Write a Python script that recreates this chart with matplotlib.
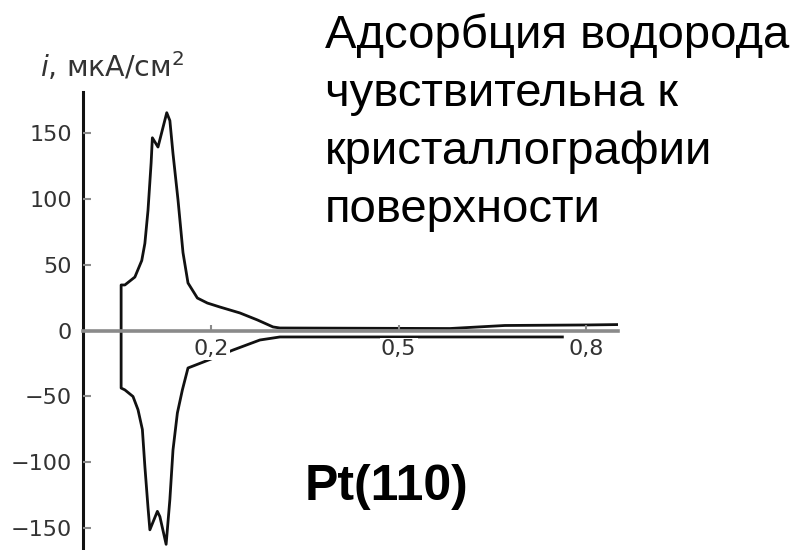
import matplotlib
matplotlib.use("Agg")
import matplotlib.pyplot as plt

# потенциал (В) и ток (мкА/см2), цикл: катодная ветвь справа налево, затем анодная
e_cath = [0.762, 0.622, 0.310, 0.278, 0.235, 0.200, 0.163, 0.154, 0.146, 0.139,
          0.134, 0.128, 0.118, 0.114, 0.102, 0.099, 0.094, 0.090, 0.083, 0.075,
          0.062, 0.056]
i_cath = [-4.9, -4.9, -4.9, -7.2, -14.8, -21.6, -28.4, -45, -62.5, -90.5,
          -128, -162, -141, -137, -151, -134, -103, -75, -60, -50,
          -45, -43.6]

e_anod = [0.056, 0.062, 0.078, 0.089, 0.094, 0.099, 0.104, 0.106, 0.115, 0.129,
          0.134, 0.139, 0.147, 0.155, 0.163, 0.178, 0.194, 0.214, 0.246, 0.274,
          0.299, 0.310, 0.582, 0.670, 0.802, 0.851]
i_anod = [34.5, 34.5, 40.5, 53, 66, 91, 127, 146, 139, 165,
          159, 134, 99, 59, 36, 24.6, 20.8, 17.8, 13.3, 8,
          2.7, 1.9, 1.5, 3.8, 4.2, 4.5]

x_ticks = [0.2, 0.5, 0.8]
x_ticklabels = ['0,2', '0,5', '0,8']
y_ticks = [-150, -100, -50, 0, 50, 100, 150]

fig = plt.figure(figsize=(8, 5.5), dpi=100)
ax = fig.add_axes([83/800, 0, 535/800, 458/550])

ax.plot(e_cath + e_anod, i_cath + i_anod, color='#111111', lw=2.0, zorder=2)

ax.set_xlim(-0.005, 0.851)
ax.set_ylim(-166.3, 180.7)

ax.spines['top'].set_visible(False)
ax.spines['right'].set_visible(False)
ax.spines['left'].set_linewidth(2.2)
ax.spines['left'].set_color('#111111')
ax.spines['bottom'].set_position(('data', 0))
ax.spines['bottom'].set_linewidth(2.6)
ax.spines['bottom'].set_color('#8a8a8a')
ax.set_axisbelow(False)

ax.set_xticks(x_ticks)
ax.set_xticklabels(x_ticklabels)
ax.set_yticks(y_ticks)
ax.tick_params(axis='x', direction='in', length=4, width=1.5, color='#8a8a8a',
               pad=6, labelsize=16, labelcolor='#333333')
ax.tick_params(axis='y', direction='in', length=6, width=1.5, color='#8a8a8a',
               pad=8, labelsize=16, labelcolor='#333333')
for lab in ax.get_xticklabels():
    lab.set_bbox(dict(facecolor='white', edgecolor='none', pad=1))

fig.text(40/800, 1 - 67/550, '$i$, мкА/см$^2$', fontsize=20.5, color='#333333',
         ha='left', va='center')

fig.text(325/800, 1 - 13/550,
         'Адсорбция водорода\nчувствительна к\nкристаллографии\nповерхности',
         family='Liberation Sans', fontsize=34, ha='left', va='top',
         linespacing=1.41, color='black')

fig.text(305/800, 1 - 500/550, 'Pt(110)', family='Liberation Sans',
         fontsize=36, fontweight='bold', ha='left', va='baseline', color='black')

fig.savefig('out.png', dpi=100)
